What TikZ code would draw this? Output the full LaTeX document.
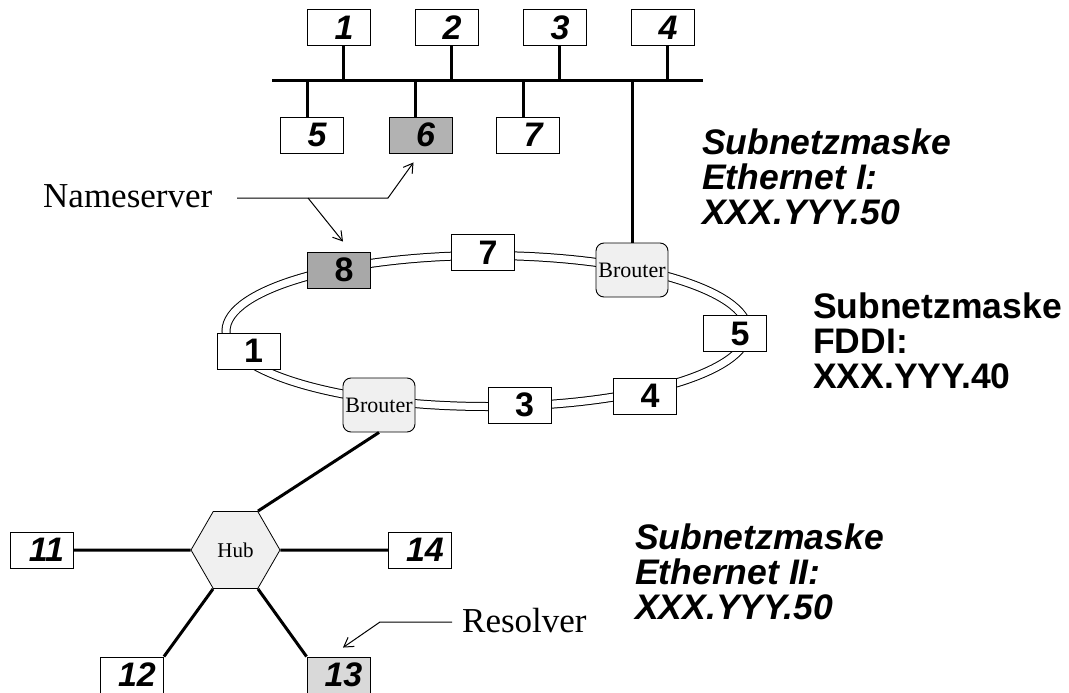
\documentclass[tikz,border=0pt]{standalone}
\usepackage{fontspec}
\setmainfont{Liberation Serif}
\newfontfamily\arialfont{Liberation Sans}
\usetikzlibrary{shapes.geometric,arrows.meta}
\begin{document}
\begin{tikzpicture}[x=1pt,y=-1pt,
  host/.style={draw, line width=0.9pt, minimum width=63pt, minimum height=36pt, inner sep=0pt, fill=white,
    execute at begin node={\hspace*{10pt}},
    font={\arialfont\bfseries\itshape\fontsize{34}{34}\selectfont}},
  ringhost/.style={host, font={\arialfont\bfseries\fontsize{34}{34}\selectfont}},
  brouter/.style={draw, line width=0.9pt, rounded corners=8pt, fill=black!6, minimum width=72pt, minimum height=54pt, inner sep=0pt,
    font={\fontsize{22}{22}\selectfont}},
  hubshape/.style={draw, line width=0.8pt, regular polygon, regular polygon sides=6, minimum size=89pt, inner sep=0pt, fill=black!6,
    font={\fontsize{21}{21}\selectfont}},
  wire/.style={line width=3pt},
  callout/.style={line width=1pt, -{Straight Barb[length=9pt,width=11pt]}},
  note/.style={inner sep=0pt, anchor=base west, font={\fontsize{35}{35}\selectfont}},
  mask/.style={align=left, inner sep=0pt, anchor=north west, font={\arialfont\bfseries\itshape\fontsize{35.5}{35}\selectfont}},
  maskup/.style={mask, font={\arialfont\bfseries\fontsize{35.5}{35}\selectfont}}
]
\useasboundingbox (0,0) rectangle (1069,693);
\clip (0,0) rectangle (1069,693);

% ---------- Ethernet I ----------
\coordinate (busL) at (272,81);
\coordinate (busR) at (703,81);
\draw[wire] (busL) -- (busR);
\node[host] (e1) at (339,27.5) {1};
\node[host] (e2) at (447,27.5) {2};
\node[host] (e3) at (555,27.5) {3};
\node[host] (e4) at (663,27.5) {4};
\node[host] (e5) at (312,135) {5};
\node[host, fill=black!30] (e6) at (420.5,135) {6};
\node[host] (e7) at (528,135) {7};
\foreach \n in {e1,e2,e3,e4}{
  \draw[wire] ([xshift=4pt]\n.south) -- ([xshift=4pt]\n.south |- busL);
}
\foreach \n in {e5,e6,e7}{
  \draw[wire] ([xshift=-5pt]\n.north) -- ([xshift=-5pt]\n.north |- busL);
}

% ---------- FDDI ring ----------
\coordinate (ringc) at (487,331);
\draw[line width=1pt, double=white, double distance=7pt] (ringc) ellipse [x radius=261pt, y radius=75.5pt];
\node[ringhost, fill=black!34] (r8) at (339,270) {8};
\node[ringhost] (r7) at (483,252.5) {7};
\node[brouter] (br1) at (632,270) {Brouter};
\node[ringhost] (r5) at (735,333.5) {5};
\node[ringhost] (r4) at (645,396) {4};
\node[ringhost] (r3) at (519.5,405) {3};
\node[brouter] (br2) at (379,405) {Brouter};
\node[ringhost] (r1) at (248.5,351) {1};
\draw[wire] (br1.north) -- (br1.north |- busL);

% ---------- Ethernet II ----------
\node[hubshape] (hub) at (235.5,550) {Hub};
\node[host] (h11) at (41.5,550) {11};
\node[host] (h14) at (420,550) {14};
\node[host] (h12) at (132,675) {12};
\node[host, fill=black!15] (h13) at (338.5,675) {13};
\draw[wire] (br2.south) -- (hub.60);
\draw[wire] (h11.east) -- (hub.180);
\draw[wire] (hub.0) -- (h14.west);
\draw[wire] (hub.240) -- (h12.north east);
\draw[wire] (hub.300) -- (h13.north west);

% ---------- callouts ----------
\node[note] (ns) at (43,207) {Nameserver};
\coordinate (nsA) at (237,198);
\coordinate (nsJ) at (308,198);
\coordinate (nsB) at (388,198);
\draw[callout] (nsA) -- (nsB) -- ([xshift=-7pt,yshift=-9pt]e6.south);
\draw[callout] (nsJ) -- ([xshift=4pt,yshift=10pt]r8.north);

\node[note] (res) at (462,632) {Resolver};
\coordinate (resA) at (452,622);
\coordinate (resB) at (380,622);
\draw[callout] (resA) -- (resB) -- ([xshift=4.5pt,yshift=9pt]h13.north);

% ---------- subnet masks ----------
\node[mask] (m1) at (702,128.5) {Subnetzmaske\\Ethernet I:\\XXX.YYY.50};
\node[maskup] (m2) at (813,292.5) {Subnetzmaske\\FDDI:\\XXX.YYY.40};
\node[mask] (m3) at (635,523.5) {Subnetzmaske\\Ethernet II:\\XXX.YYY.50};
\end{tikzpicture}
\end{document}
